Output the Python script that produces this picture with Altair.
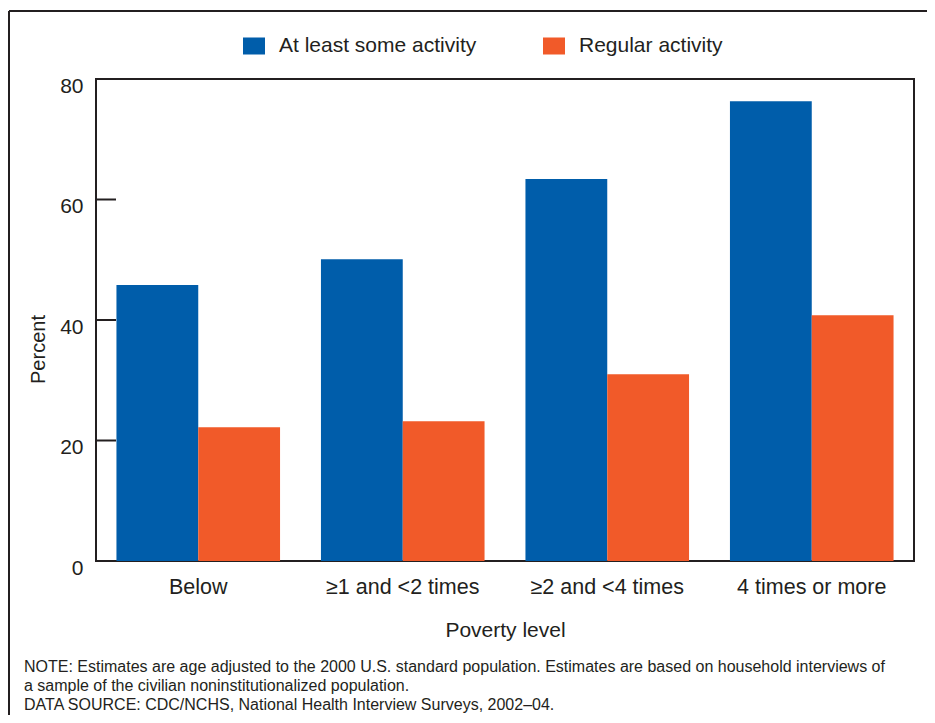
import altair as alt
import pandas as pd

categories = ["Below", "≥1 and <2 times", "≥2 and <4 times", "4 times or more"]
series_names = ["At least some activity", "Regular activity"]
some_activity = [45.8, 50.1, 63.4, 76.3]
regular_activity = [22.2, 23.2, 31.0, 40.8]
y_tick_values = [0, 20, 40, 60, 80]
inner_ticks = [20, 40, 60]
colors = ["#005DAA", "#F15A29"]
note_lines = [
    "NOTE: Estimates are age adjusted to the 2000 U.S. standard population. Estimates are based on household interviews of",
    "a sample of the civilian noninstitutionalized population.",
    "DATA SOURCE: CDC/NCHS, National Health Interview Surveys, 2002\u201304.",
]

FONT = "Liberation Sans"
INK = "#231F20"

rows = []
for i, c in enumerate(categories):
    rows.append({"level": c, "series": series_names[0], "value": some_activity[i]})
    rows.append({"level": c, "series": series_names[1], "value": regular_activity[i]})
df = pd.DataFrame(rows)

yscale = alt.Scale(domain=[0, 80], nice=False)

bars = alt.Chart(df).mark_bar(strokeWidth=0).encode(
    x=alt.X(
        "level:N",
        sort=categories,
        scale=alt.Scale(paddingInner=0.2, paddingOuter=0.1),
        axis=alt.Axis(
            title="Poverty level",
            labelAngle=0,
            labelFont=FONT,
            labelFontSize=21.5,
            labelColor=INK,
            labelPadding=15,
            labelLimit=300,
            ticks=False,
            domain=False,
            titleFont=FONT,
            titleFontSize=21,
            titleFontWeight="normal",
            titleColor=INK,
            titlePadding=22,
        ),
    ),
    xOffset=alt.XOffset("series:N", sort=series_names, scale=alt.Scale(paddingInner=0, paddingOuter=0)),
    y=alt.Y(
        "value:Q",
        scale=yscale,
        axis=alt.Axis(
            values=y_tick_values,
            title="Percent",
            labelFont=FONT,
            labelFontSize=21,
            labelColor=INK,
            labelPadding=13,
            labelOffset=7,
            ticks=False,
            domain=False,
            grid=False,
            titleFont=FONT,
            titleFontSize=20,
            titleFontWeight="normal",
            titleColor=INK,
            titleX=-58,
            titleY=270,
            titleAlign="center",
            titleBaseline="middle",
        ),
    ),
    color=alt.Color(
        "series:N",
        sort=series_names,
        scale=alt.Scale(domain=series_names, range=colors),
        legend=alt.Legend(
            title=None,
            orient="none",
            direction="horizontal",
            legendX=147,
            legendY=-44,
            symbolType="M-1,-0.773H1V0.773H-1Z",
            symbolSize=484,
            symbolStrokeWidth=0,
            symbolOpacity=1,
            labelFont=FONT,
            labelFontSize=21,
            labelColor=INK,
            labelLimit=400,
            labelOffset=14,
            columnPadding=66,
        ),
    ),
)

ticks = alt.Chart(pd.DataFrame({"value": inner_ticks})).mark_rule(
    color=INK, strokeWidth=2
).encode(
    y=alt.Y("value:Q", scale=yscale),
    x=alt.value(0),
    x2=alt.value(20),
)

one = pd.DataFrame({"a": [0]})
border_left = alt.Chart(one).mark_rule(color=INK, strokeWidth=2).encode(
    x=alt.value(-87), y=alt.value(-68), y2=alt.value(700)
)
border_top = alt.Chart(one).mark_rule(color=INK, strokeWidth=2).encode(
    x=alt.value(-87), x2=alt.value(1000), y=alt.value(-68)
)

note_layers = []
for i, line in enumerate(note_lines):
    note_layers.append(
        alt.Chart(pd.DataFrame({"t": [line]})).mark_text(
            align="left", baseline="middle", font=FONT, fontSize=16, color=INK
        ).encode(x=alt.value(-72), y=alt.value(588 + i * 19), text="t:N")
    )

chart = alt.layer(bars, ticks, border_left, border_top, *note_layers).properties(
    width=818,
    height=482,
    autosize=alt.AutoSizeParams(type="none"),
    padding={"left": 88, "top": 71, "right": 13, "bottom": 154},
).configure(
    background="white",
    view=alt.ViewConfig(stroke=INK, strokeWidth=2),
)

chart.save("out.html", embed_options={"renderer": "svg", "actions": False})
